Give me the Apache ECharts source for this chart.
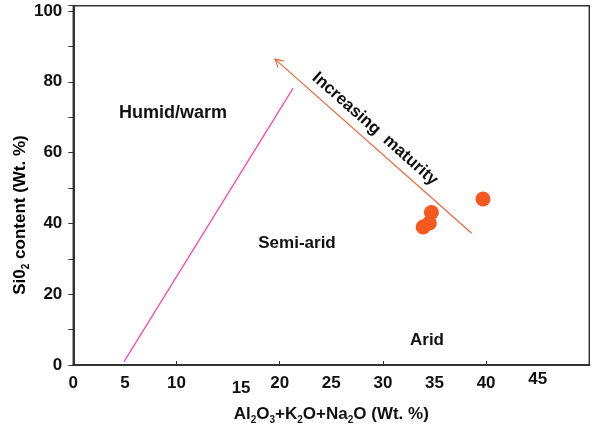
<!DOCTYPE html>
<html>
<head>
<meta charset="utf-8">
<script src="https://cdn.jsdelivr.net/npm/echarts@6/dist/echarts.min.js"></script>
<style>
html,body{margin:0;padding:0;background:#fff;}
#main{width:592px;height:431px;}
</style>
</head>
<body>
<div id="main"></div>
<script>
// 数据
var xLabelValues = [0, 5, 10, 15, 20, 25, 30, 35, 40, 45];
var yLabelValues = [0, 20, 40, 60, 80, 100];
var sampleX = [39.7, 34.7, 33.9, 34.5];
var sampleY = [46.9, 43.1, 39.0, 40.1];
var climateLineX = [4.9, 21.3];
var climateLineY = [0.9, 78.2];
var maturityArrowX = [38.6, 19.55];   // start -> tip
var maturityArrowY = [37.2, 86.4];

var font = 'Liberation Sans, Arial, sans-serif';
var axisColor = '#333';

var samples = [];
for (var i = 0; i < sampleX.length; i++) {
    samples.push([sampleX[i], sampleY[i]]);
}
var climateLine = [];
for (var i = 0; i < climateLineX.length; i++) {
    climateLine.push([climateLineX[i], climateLineY[i]]);
}
var arrowData = [[maturityArrowX[0], maturityArrowY[0], maturityArrowX[1], maturityArrowY[1]]];

var bold = {fontFamily: font, fontWeight: 'bold', fontSize: 17, color: '#111'};
var sub = {fontFamily: font, fontWeight: 'bold', fontSize: 10, color: '#111', verticalAlign: 'bottom', padding: [0, 0, -2, 0]};

var myChart = echarts.init(document.getElementById('main'));

var option = {
    backgroundColor: '#fff',
    animation: false,
    grid: {
        left: 73.3,
        right: 2.7,
        top: 5.7,
        bottom: 66,
        show: true,
        borderColor: axisColor,
        borderWidth: 1.5
    },
    xAxis: [
        {
            type: 'value',
            position: 'bottom',
            min: 0,
            max: 50,
            interval: 10,
            splitLine: {show: false},
            axisLine: {show: true, lineStyle: {color: axisColor, width: 2}},
            axisTick: {show: true, inside: true, length: 4, lineStyle: {color: axisColor, width: 1}},
            axisLabel: {show: false},
            name: '{b|Al}{s|2}{b|O}{s|3}{b|+K}{s|2}{b|O+Na}{s|2}{b|O (Wt. %)}',
            nameLocation: 'middle',
            nameGap: 41,
            nameTextStyle: {rich: {b: bold, s: sub}}
        },
        {
            type: 'value',
            position: 'bottom',
            min: 0,
            max: 50,
            interval: 5,
            splitLine: {show: false},
            axisLine: {show: false},
            axisTick: {show: false},
            axisLabel: {
                margin: 10,
                showMaxLabel: false,
                formatter: function (v) {
                    if (xLabelValues.indexOf(v) < 0) return '';
                    if (v === 15) return '{lo|' + v + '}';
                    if (v === 45) return '{hi|' + v + '}';
                    return '{n|' + v + '}';
                },
                rich: {
                    n: bold,
                    lo: {fontFamily: font, fontWeight: 'bold', fontSize: 17, color: '#111', padding: [5, 0, 0, 26]},
                    hi: {fontFamily: font, fontWeight: 'bold', fontSize: 17, color: '#111', padding: [-4, 0, 0, 0]}
                }
            }
        }
    ],
    yAxis: {
        type: 'value',
        min: 0,
        max: 101.5,
        interval: 20,
        splitLine: {show: false},
        axisLine: {show: true, lineStyle: {color: axisColor, width: 2}},
        axisTick: {show: true, length: 5, lineStyle: {color: axisColor, width: 1}},
        minorTick: {show: true, splitNumber: 2, length: 5, lineStyle: {color: axisColor, width: 1}},
        axisLabel: {
            margin: 11,
            showMaxLabel: false,
            fontFamily: font,
            fontWeight: 'bold',
            fontSize: 17,
            color: '#111',
            formatter: function (v) {
                return yLabelValues.indexOf(v) < 0 ? '' : v;
            }
        }
    },
    graphic: [
        {
            type: 'text', x: 20.7, y: 215, rotation: Math.PI / 2,
            style: {
                text: '{b|Si0}{s|2}{b| content (Wt. %)}',
                align: 'center', verticalAlign: 'middle',
                rich: {b: bold, s: sub}
            }
        },
        {type: 'text', x: 173, y: 113, style: {text: 'Humid/warm', align: 'center', verticalAlign: 'middle', font: 'bold 18px ' + font, fill: '#111'}},
        {type: 'text', x: 297, y: 243, style: {text: 'Semi-arid', align: 'center', verticalAlign: 'middle', font: 'bold 17px ' + font, fill: '#111'}},
        {type: 'text', x: 427, y: 340, style: {text: 'Arid', align: 'center', verticalAlign: 'middle', font: 'bold 17px ' + font, fill: '#111'}},
        {
            type: 'text', x: 375, y: 129, rotation: -0.7234,
            style: {text: 'Increasing  maturity', align: 'center', verticalAlign: 'middle', font: 'bold 17px ' + font, fill: '#111'}
        }
    ],
    series: [
        {
            name: 'climate',
            type: 'line',
            data: climateLine,
            showSymbol: false,
            symbol: 'none',
            lineStyle: {color: '#ff3fa4', width: 1.2},
            z: 2
        },
        {
            name: 'maturity',
            type: 'custom',
            data: arrowData,
            encode: {x: [0, 2], y: [1, 3]},
            renderItem: function (params, api) {
                var p1 = api.coord([api.value(0), api.value(1)]);
                var p2 = api.coord([api.value(2), api.value(3)]);
                var ang = Math.atan2(p1[1] - p2[1], p1[0] - p2[0]);
                var len = 9, spread = 0.5;
                var a1 = [p2[0] + len * Math.cos(ang + spread), p2[1] + len * Math.sin(ang + spread)];
                var a2 = [p2[0] + len * Math.cos(ang - spread), p2[1] + len * Math.sin(ang - spread)];
                var st = {stroke: '#f0643a', lineWidth: 1.2, fill: null};
                return {
                    type: 'group',
                    children: [
                        {type: 'polyline', shape: {points: [p1, p2]}, style: st},
                        {type: 'polyline', shape: {points: [a1, p2, a2]}, style: st}
                    ]
                };
            },
            z: 2
        },
        {
            name: 'samples',
            type: 'scatter',
            data: samples,
            symbolSize: 15,
            itemStyle: {color: '#f5591f', opacity: 1},
            z: 3
        }
    ]
};

myChart.setOption(option);
</script>
</body>
</html>
